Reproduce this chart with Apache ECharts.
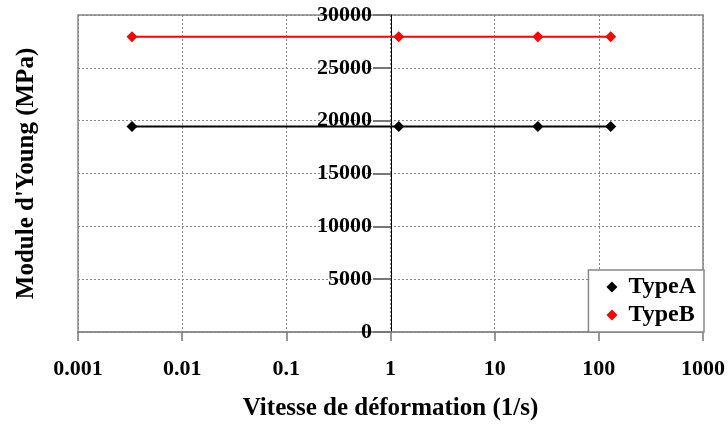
<!DOCTYPE html>
<html>
<head>
<meta charset="utf-8">
<script src="https://cdn.jsdelivr.net/npm/echarts@6/dist/echarts.min.js"></script>
<style>html,body{margin:0;padding:0;background:#fff;}#c{width:728px;height:429px;}</style>
</head>
<body>
<div id="c"></div>
<script>
const strainRates = [0.0033, 1.2, 26, 130];
const typeA = [19450, 19450, 19450, 19450];
const typeB = [27950, 27950, 27950, 27950];
const xTickLabels = ['0.001', '0.01', '0.1', '1', '10', '100', '1000'];
const yTickLabels = ['0', '5000', '10000', '15000', '20000', '25000', '30000'];
const seriesNames = ['TypeA', 'TypeB'];
const xTitle = 'Vitesse de déformation (1/s)';
const yTitle = "Module d'Young (MPa)";

const font = 'Liberation Serif';
const chart = echarts.init(document.getElementById('c'));
const pairs = arr => strainRates.map((x, i) => [x, arr[i]]);
chart.setOption({
  animation: false,
  backgroundColor: '#fff',
  grid: { left: 78, right: 24, top: 15, bottom: 97, show: true, borderColor: '#888', borderWidth: 1.5, backgroundColor: 'transparent' },
  legend: {
    data: seriesNames.map(n => ({ name: n, icon: 'diamond' })),
    orient: 'vertical', right: 24, bottom: 97,
    itemWidth: 11, itemHeight: 11, itemGap: 4,
    padding: [5, 8, 5, 18],
    borderColor: '#888', borderWidth: 1.5, borderRadius: 0, backgroundColor: '#fff',
    textStyle: { fontFamily: font, fontWeight: 'bold', fontSize: 24, color: '#000', padding: [0, 0, 0, 6] }
  },
  xAxis: {
    type: 'log', logBase: 10, min: 0.001, max: 1000, splitNumber: 6,
    name: xTitle, nameLocation: 'middle', nameGap: 64,
    nameTextStyle: { fontFamily: font, fontWeight: 'bold', fontSize: 25, color: '#000' },
    axisLine: { onZero: false, lineStyle: { color: '#888', width: 1.5 } },
    axisTick: { show: true, length: 9, lineStyle: { color: '#777', width: 1.5 } },
    minorTick: { show: false },
    axisLabel: {
      margin: 26, fontFamily: font, fontWeight: 'bold', fontSize: 22, color: '#000',
      formatter: v => {
        const k = Math.round(Math.log10(v)) + 3;
        return xTickLabels[k] !== undefined ? xTickLabels[k] : '';
      }
    },
    splitLine: { show: true, lineStyle: { color: '#888', type: [2, 2], width: 1 } }
  },
  yAxis: {
    type: 'value', min: 0, max: 30000, interval: 5000, offset: -313,
    name: yTitle, nameLocation: 'middle', nameGap: 352,
    nameTextStyle: { fontFamily: font, fontWeight: 'bold', fontSize: 25, color: '#000' },
    axisLine: { show: true, lineStyle: { color: '#000', width: 1 } },
    axisTick: { show: true, length: 18, lineStyle: { color: '#777', width: 2 } },
    axisLabel: {
      margin: 19, fontFamily: font, fontWeight: 'bold', fontSize: 22, color: '#000',
      formatter: v => yTickLabels[Math.round(v / 5000)] || ''
    },
    splitLine: { show: true, lineStyle: { color: '#888', type: [2, 2], width: 1 } }
  },
  series: [
    { name: seriesNames[0], type: 'line', data: pairs(typeA), symbol: 'diamond', symbolSize: 11,
      itemStyle: { color: '#000' }, lineStyle: { color: '#000', width: 2 } },
    { name: seriesNames[1], type: 'line', data: pairs(typeB), symbol: 'diamond', symbolSize: 11,
      itemStyle: { color: '#ff0000' }, lineStyle: { color: '#ff0000', width: 2 } }
  ]
});
</script>
</body>
</html>
